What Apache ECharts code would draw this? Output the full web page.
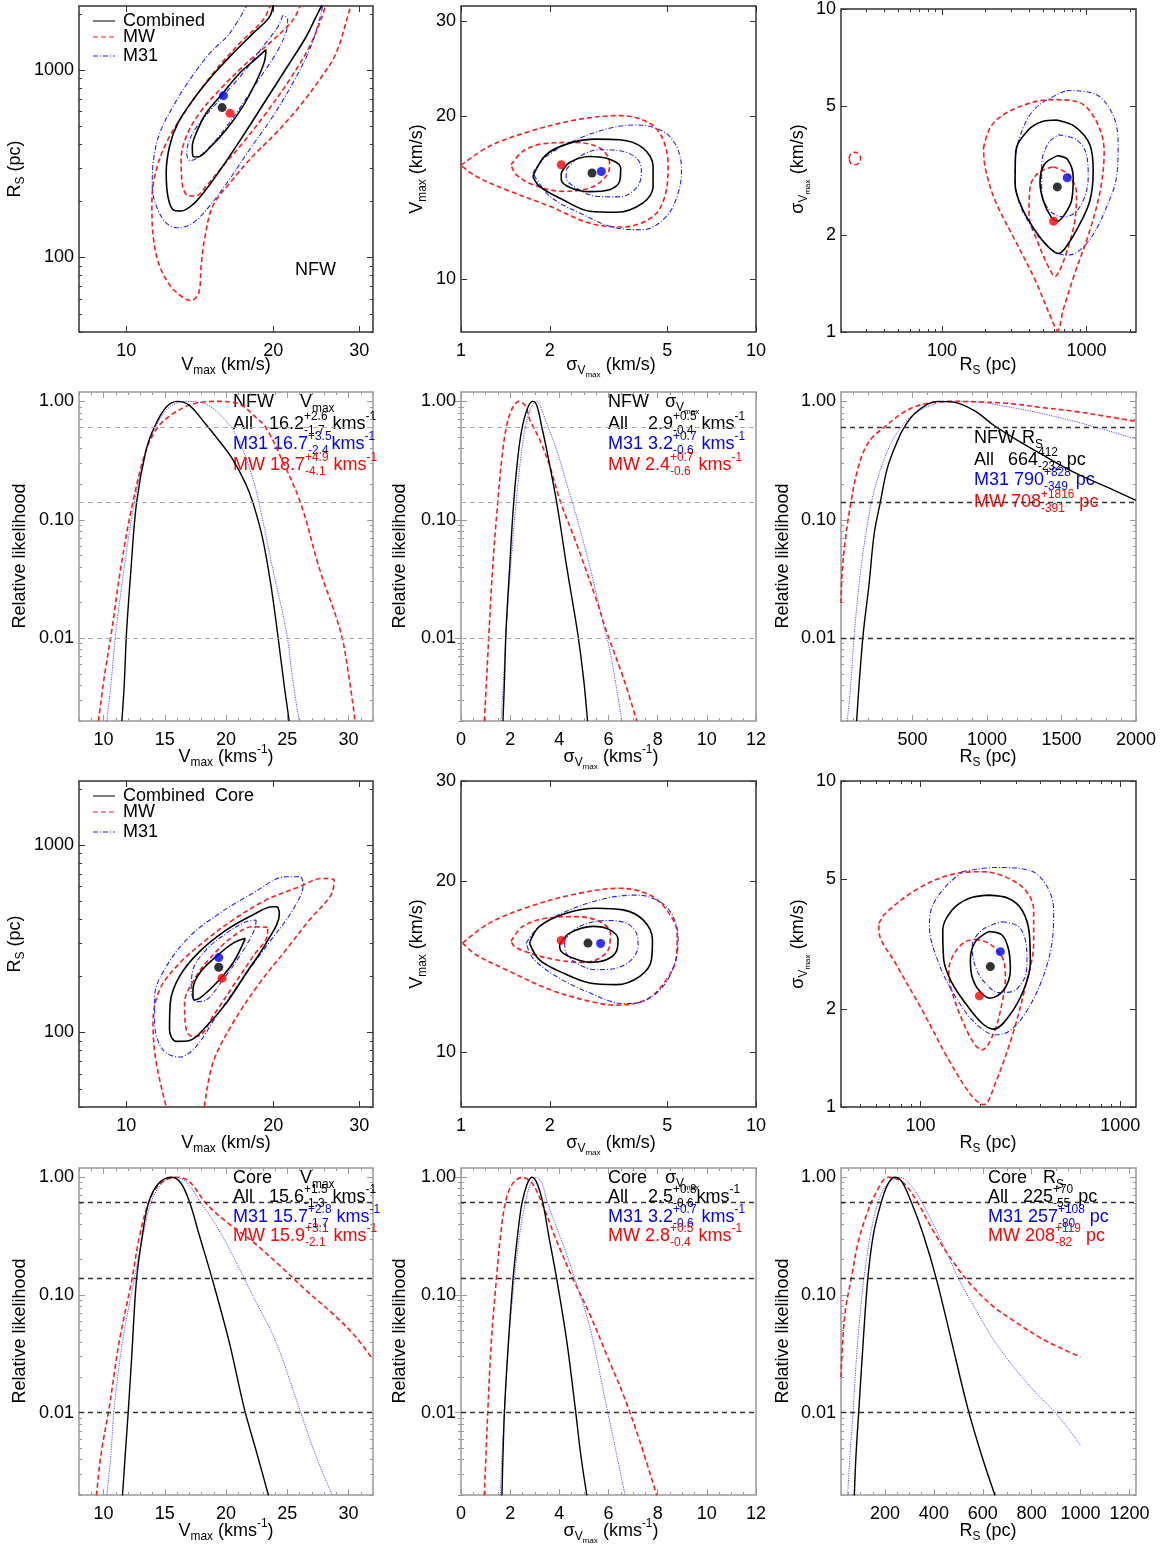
<!DOCTYPE html>
<html>
<head>
<meta charset="utf-8">
<script src="https://cdn.jsdelivr.net/npm/echarts@6/dist/echarts.min.js"></script>
<style>html,body{margin:0;padding:0;background:#fff}#chart{width:1163px;height:1545px}</style>
</head>
<body>
<div id="chart"></div>
<script>
// ---- NFW: Vmax vs Rs contours ----
const nfwVR_all_out = [[20.0,2260],[19.63,1919],[18.15,1566],[16.52,1226],[15.04,941],[13.69,693],[12.75,521],[12.26,392],[12.07,283],[12.16,213],[12.46,180],[12.95,177],[13.69,192],[14.57,231],[15.76,307],[17.31,443],[19.32,693],[21.57,1085],[23.33,1503],[24.64,2000],[25.23,2260]];
const nfwVR_all_in = [[19.32,1287],[18.44,1153],[17.04,960],[15.76,752],[14.57,589],[13.9,461],[13.65,392],[13.69,347],[14.01,344],[14.8,384],[16.01,480],[17.31,639],[18.44,867],[19.17,1107]];
const nfwVR_m31_out = [[17.73,2260],[16.26,1566],[14.8,1226],[13.47,885],[12.46,639],[11.70,461],[11.37,333],[11.30,240],[11.52,188],[12.07,153],[12.75,144],[13.69,153],[14.8,188],[16.26,261],[17.87,376],[19.94,565],[21.91,850],[23.7,1277],[24.84,1843],[25.3,2260]];
const nfwVR_m31_in = [[20.9,1959],[20.42,1699],[19.02,1330],[17.31,960],[15.51,693],[14.12,521],[13.47,425],[13.3,354],[13.51,329],[14.12,347],[15.27,425],[16.79,589],[18.44,850],[20.25,1226],[21.29,1631],[21.4,1880]];
const nfwVR_mw_out = [[19.79,2260],[19.02,1843],[17.04,1386],[15.04,960],[13.27,613],[12.07,408],[11.43,271],[11.28,188],[11.37,125],[11.70,90],[12.46,68],[13.58,59],[14.08,65],[14.23,90],[14.46,125],[15.04,188],[16.52,261],[18.15,347],[20.25,461],[22.61,639],[24.84,885],[26.86,1226],[28.51,2000],[28.87,2260]];
const nfwVR_mw_in = [[22.79,2260],[21.91,1843],[19.94,1443],[17.59,1085],[15.51,783],[14.12,589],[13.27,443],[12.95,333],[13.01,250],[13.37,214],[13.9,213],[14.57,240],[15.76,307],[17.31,408],[19.32,589],[21.57,885],[23.7,1330],[25.15,1919],[25.63,2260]];
const nfwVR_best = {m31: [15.81,731], all: [15.71,631], mw: [16.31,589]};

// ---- NFW: sigma vs Vmax contours ----
const nfwSV_mw_out = [[1.0,16.25],[1.248,17.62],[1.707,18.77],[2.459,19.72],[3.45,20.08],[4.364,19.44],[4.844,18.12],[5.037,16.18],[4.908,14.25],[4.479,13.08],[3.542,12.5],[2.729,12.71],[2.0,13.65],[1.422,14.65],[1.124,15.51]];
const nfwSV_mw_in = [[1.478,16.29],[1.62,17.24],[1.894,17.81],[2.459,17.91],[2.913,17.57],[3.149,16.87],[3.19,16.18],[3.069,15.4],[2.729,14.76],[2.215,14.55],[1.752,14.97],[1.538,15.62]];
const nfwSV_all_out = [[1.752,15.51],[1.945,17.01],[2.334,17.86],[2.876,18.17],[3.45,18.12],[4.142,17.49],[4.479,16.18],[4.479,14.86],[4.142,13.85],[3.363,13.31],[2.729,13.37],[2.215,14.04],[1.845,14.86]];
const nfwSV_all_in = [[2.187,15.73],[2.334,16.45],[2.729,16.87],[3.19,16.68],[3.478,16.07],[3.45,15.18],[3.19,14.65],[2.729,14.53],[2.364,14.76],[2.187,15.29]];
const nfwSV_m31_out = [[1.752,15.73],[1.945,16.87],[2.459,18.12],[3.19,19.03],[3.932,19.3],[4.844,18.77],[5.376,17.62],[5.59,15.96],[5.447,14.45],[4.972,13.08],[4.142,12.36],[3.363,12.45],[2.591,13.18],[2.0,14.25]];
const nfwSV_m31_in = [[2.274,15.96],[2.523,16.87],[2.951,17.37],[3.542,17.24],[3.983,16.64],[4.088,15.73],[3.932,14.76],[3.45,14.21],[2.876,14.25],[2.459,14.76],[2.274,15.4]];
const nfwSV_best = {m31: [2.99,15.83], all: [2.78,15.73], mw: [2.187,16.29]};

// ---- NFW: Rs vs sigma contours ----
const nfwRS_mw_out = [[193.8,3.711],[221.2,4.374],[320.4,4.918],[573.7,5.24],[876,5.155],[1172,4.478],[1324,3.625],[1256,2.8],[1055,2.064],[830.7,1.521],[690.4,1.174],[631,1.009],[573.7,1.095],[440,1.451],[320.4,1.923],[233.3,2.55],[199,3.224]];
const nfwRS_mw_island = [[22.71,3.443],[23.32,3.557],[24.85,3.6],[26.6,3.557],[27.33,3.443],[26.6,3.331],[24.85,3.293],[23.32,3.331]];
const nfwRS_mw_in = [[589,3.246],[747.4,3.076],[853,2.673],[830.7,2.213],[747.4,1.835],[655,1.557],[605,1.486],[558.6,1.557],[464.2,1.878],[400.2,2.32],[406.6,2.8],[464.2,3.112]];
const nfwRS_all_out = [[621,4.531],[830.7,4.323],[1055,3.799],[1112,3.149],[1055,2.55],[876,2.113],[709,1.813],[637.6,1.75],[544,1.835],[440,2.064],[356.2,2.433],[320.4,2.867],[323.8,3.625],[396,4.224],[489.5,4.478]];
const nfwRS_all_in = [[631,3.516],[739.6,3.419],[809,3.004],[788,2.55],[709,2.32],[631,2.203],[567.5,2.276],[502.5,2.55],[476.6,2.901],[510.5,3.3]];
const nfwRS_m31_out = [[728,5.595],[1141,5.464],[1527,4.69],[1654,3.799],[1610,3.004],[1374,2.433],[1083,1.969],[830.7,1.75],[709,1.73],[544,1.835],[417.6,2.113],[337.9,2.55],[320.4,3.076],[337.9,3.89],[440,4.918]];
const nfwRS_m31_in = [[637.6,4.076],[853,3.936],[1000,3.54],[1027,3.004],[948,2.55],[809,2.32],[672.4,2.276],[544,2.405],[489.5,2.74],[489.5,3.3],[544,3.845]];
const nfwRS_best = {m31: [735.6,3.004], all: [628,2.813], mw: [592,2.203]};

// ---- NFW: relative likelihood curves ----
const nfwLV_all = [[11.5,0.002],[11.69,0.004],[11.88,0.0112],[12.23,0.0367],[12.69,0.137],[13.46,0.382],[14.14,0.602],[15.09,0.889],[16.04,1.0],[16.99,0.93],[18.2,0.67],[19.4,0.47],[20.5,0.33],[21.62,0.2],[22.22,0.137],[22.98,0.0704],[23.66,0.0283],[24.2,0.0112],[24.75,0.004],[25.16,0.002]];
const nfwLV_m31 = [[10.27,0.002],[10.6,0.004],[11.01,0.0112],[11.69,0.0392],[12.5,0.137],[13.46,0.382],[14.22,0.602],[15.36,0.889],[16.72,1.0],[18.35,0.949],[19.99,0.686],[21.07,0.464],[22.16,0.227],[22.71,0.137],[23.8,0.0392],[24.94,0.0112],[25.43,0.0046],[25.97,0.002]];
const nfwLV_mw = [[9.59,0.002],[10.05,0.0046],[10.65,0.0112],[11.41,0.0392],[12.37,0.137],[13.46,0.382],[14.41,0.602],[15.63,0.781],[17.27,0.949],[19.17,1.0],[21.07,0.949],[22.44,0.732],[23.25,0.602],[24.61,0.314],[26.11,0.137],[27.61,0.0392],[29.37,0.0112],[30.05,0.0046],[30.54,0.002]];

const nfwLS_all = [[1.707,0.002],[1.761,0.004],[1.829,0.0112],[1.978,0.0392],[2.14,0.137],[2.343,0.382],[2.519,0.643],[2.75,0.919],[2.926,1.0],[3.088,0.919],[3.291,0.602],[3.495,0.382],[3.901,0.137],[4.307,0.0392],[4.741,0.0112],[4.984,0.0046],[5.147,0.002]];
const nfwLS_m31 = [[1.625,0.002],[1.734,0.0046],[1.869,0.0148],[2.072,0.0543],[2.275,0.164],[2.546,0.495],[2.817,0.861],[3.061,1.0],[3.495,0.643],[3.901,0.382],[4.307,0.199],[4.713,0.104],[5.255,0.0392],[5.797,0.013],[6.068,0.0077],[6.542,0.002]];
const nfwLS_mw = [[0.948,0.002],[1.029,0.004],[1.138,0.0112],[1.287,0.0392],[1.49,0.137],[1.666,0.335],[1.842,0.602],[2.072,0.861],[2.343,1.0],[2.614,0.919],[2.817,0.686],[3.224,0.464],[3.63,0.276],[4.036,0.144],[4.713,0.0618],[5.526,0.0205],[5.932,0.0112],[6.61,0.0046],[7.151,0.002]];

const nfwLR_all = [[125,0.002],[141,0.004],[170,0.0112],[208,0.0283],[242,0.0751],[282,0.137],[332,0.276],[399,0.464],[444,0.602],[511,0.781],[601,0.949],[668,1.0],[781,0.981],[915,0.834],[1050,0.622],[1174,0.495],[1365,0.358],[1589,0.25],[1814,0.187],[2000,0.146]];
const nfwLR_m31 = [[62,0.002],[85,0.004],[107,0.01],[141,0.0283],[186,0.0751],[242,0.175],[332,0.382],[421,0.602],[511,0.781],[646,0.949],[781,1.0],[960,0.981],[1140,0.9],[1365,0.791],[1589,0.677],[1814,0.564],[2000,0.48]];
const nfwLR_mw = [[20,0.0198],[28,0.0367],[51,0.0704],[85,0.137],[129,0.259],[174,0.382],[230,0.495],[309,0.602],[421,0.781],[534,0.919],[646,0.981],[758,1.0],[915,0.993],[1140,0.962],[1365,0.889],[1589,0.823],[1814,0.742],[2000,0.677]];

// ---- Core: Vmax vs Rs contours ----
const coreVR_all_out = [[20.42,469],[20.58,432],[19.32,299],[17.59,207],[16.01,143],[14.57,107.6],[13.47,90.6],[12.65,89.6],[12.26,103],[12.3,143],[12.85,199],[14.12,270],[16.01,352],[18.15,424],[19.94,469]];
const coreVR_all_in = [[17.53,318],[16.52,234],[15.27,183],[14.12,152],[13.73,149],[13.69,169],[14.12,207],[15.27,254],[16.52,299]];
const coreVR_m31_out = [[22.79,678],[23.04,625],[21.91,450],[19.32,287],[17.04,183],[15.27,121.7],[13.9,84.2],[12.85,73.9],[11.88,80.8],[11.43,112],[11.43,155.5],[12.07,224.7],[13.47,325],[15.51,432],[18.15,553],[21.23,678]];
const coreVR_m31_in = [[18.44,398],[18.29,352],[17.04,254],[15.76,191],[14.57,149],[13.9,146],[13.58,169],[13.69,216],[14.57,276],[16.01,338],[17.59,390]];
const coreVR_mw_out = [[12.16,37.2],[11.52,68.6],[11.34,112],[11.70,169],[12.85,234],[14.57,312],[16.52,398],[19.32,509],[22.61,600],[25.23,664],[26.65,651],[26.24,541],[23.7,398],[21.23,276],[18.73,183],[16.52,112],[15.04,68.6],[14.39,37.2]];
const coreVR_mw_in = [[19.47,364],[18.15,367],[16.52,325],[15.04,259],[13.9,199],[13.16,143],[13.27,103],[13.65,95.2],[14.23,97.2],[15.04,121.7],[16.52,176],[18.15,254],[19.47,338]];
const coreVR_best = {m31: [15.46,251], all: [15.46,223], mw: [15.71,195]};

// ---- Core: sigma vs Vmax contours ----
const coreSV_mw_out = [[1.013,15.55],[1.248,16.86],[1.707,18.03],[2.459,18.98],[3.45,19.42],[4.364,18.89],[4.972,17.79],[5.404,16.19],[5.376,14.73],[4.972,13.41],[4.251,12.37],[3.363,12.09],[2.729,12.28],[2.0,12.88],[1.422,13.96],[1.124,14.83]];
const coreSV_mw_in = [[1.478,15.66],[1.62,16.64],[1.945,17.2],[2.459,17.31],[2.951,16.97],[3.208,16.19],[3.19,15.34],[2.951,14.63],[2.591,14.38],[2.102,14.53],[1.707,14.93],[1.518,15.34]];
const coreSV_all_out = [[1.707,15.55],[1.845,16.64],[2.274,17.55],[2.876,17.91],[3.542,17.79],[4.142,17.08],[4.456,15.77],[4.421,14.53],[4.036,13.59],[3.363,13.14],[2.729,13.23],[2.215,13.78],[1.845,14.53]];
const coreSV_all_in = [[2.159,15.45],[2.334,16.19],[2.802,16.64],[3.19,16.42],[3.406,15.77],[3.363,15.03],[3.109,14.53],[2.729,14.38],[2.395,14.63],[2.187,15.03]];
const coreSV_m31_out = [[1.663,15.55],[1.845,16.64],[2.334,17.79],[3.109,18.65],[3.932,18.89],[4.719,18.4],[5.238,17.31],[5.447,15.77],[5.307,14.34],[4.844,13.05],[4.142,12.28],[3.542,12.17],[2.729,12.71],[2.102,13.59],[1.752,14.63]];
const coreSV_m31_in = [[2.244,15.77],[2.523,16.64],[3.109,17.04],[3.636,16.86],[3.932,16.19],[3.983,15.34],[3.781,14.53],[3.363,14.05],[2.876,13.96],[2.459,14.34],[2.262,15.03]];
const coreSV_best = {m31: [2.974,15.52], all: [2.694,15.55], mw: [2.187,15.72]};

// ---- Core: Rs vs sigma contours ----
const coreRS_mw_out = [[61.9,3.655],[66.8,3.926],[94.4,4.626],[138.6,5.14],[203.4,5.27],[266.1,5.08],[335,4.626],[368.8,4.02],[368.8,3.178],[335,2.34],[287.3,1.647],[237.1,1.184],[207.4,1.016],[181.3,1.078],[138.6,1.395],[101.9,1.985],[75,2.759],[61.9,3.491]];
const coreRS_mw_in = [[188.4,3.268],[219.6,3.178],[256.1,2.892],[266.1,2.51],[256.1,2.082],[232.6,1.685],[203.4,1.497],[184.8,1.571],[161.6,1.851],[142.9,2.286],[138.6,2.633],[149.6,2.996],[167.9,3.215]];
const coreRS_all_out = [[219.6,4.466],[276.5,4.362],[322.3,4.02],[350.7,3.41],[354.8,2.759],[328.6,2.286],[276.5,1.895],[232.6,1.733],[203.4,1.807],[167.9,2.082],[144,2.397],[130.8,2.825],[129.3,3.491],[144,4.02],[174.5,4.362]];
const coreRS_all_in = [[219.6,3.451],[256.1,3.37],[276.5,3.031],[281.8,2.633],[261.1,2.286],[223.9,2.156],[195.8,2.286],[181.3,2.51],[177.8,2.825],[188.4,3.215]];
const coreRS_m31_out = [[161.6,5.27],[237.1,5.43],[348,5.33],[421.7,4.85],[464.2,4.02],[455.1,3.178],[405.8,2.453],[335,1.94],[276.5,1.705],[237.1,1.666],[188.4,1.807],[149.6,2.181],[123.5,2.759],[110.9,3.573],[114.4,4.116],[133.4,4.736]];
const coreRS_m31_in = [[256.1,3.702],[310.2,3.573],[337.6,3.178],[341.5,2.759],[328.6,2.453],[287.3,2.259],[246.5,2.243],[211.3,2.397],[188.4,2.696],[181.3,3.104],[203.4,3.491]];
const coreRS_best = {m31: [251.2,2.996], all: [223.9,2.696], mw: [197.2,2.192]};

// ---- Core: relative likelihood curves ----
const coreLV_all = [[11.55,0.00198],[11.77,0.00433],[12.04,0.011],[12.31,0.0308],[12.69,0.134],[13.18,0.325],[13.67,0.604],[14.41,0.866],[15.5,1.0],[16.31,0.895],[17.05,0.604],[17.81,0.325],[18.9,0.134],[20.26,0.04],[21.48,0.011],[22.57,0.00433],[23.47,0.00198]];
const coreLV_m31 = [[10.27,0.00198],[10.6,0.00433],[10.87,0.011],[11.55,0.04],[12.5,0.134],[13.18,0.304],[13.86,0.604],[14.68,0.866],[15.63,1.0],[16.72,0.924],[17.95,0.604],[19.17,0.395],[20.53,0.219],[22.16,0.1],[24.07,0.04],[25.97,0.011],[27.33,0.00433],[28.69,0.00198]];
const coreLV_mw = [[9.43,0.00198],[9.78,0.00433],[10.46,0.011],[11.28,0.04],[12.31,0.134],[12.91,0.304],[13.67,0.604],[14.54,0.866],[15.9,1.0],[16.99,0.924],[18.35,0.604],[19.99,0.422],[22.16,0.285],[24.34,0.18],[26.52,0.11],[28.69,0.0698],[30.6,0.0441],[31.96,0.0285]];

const coreLS_all = [[1.666,0.00198],[1.707,0.00433],[1.774,0.011],[1.896,0.0308],[2.113,0.134],[2.303,0.325],[2.479,0.604],[2.682,0.866],[2.885,1.0],[3.088,0.895],[3.332,0.604],[3.562,0.325],[3.901,0.134],[4.307,0.04],[4.646,0.011],[4.876,0.00433],[5.12,0.00198]];
const coreLS_m31 = [[1.598,0.00198],[1.666,0.00433],[1.774,0.011],[1.937,0.04],[2.167,0.134],[2.384,0.325],[2.614,0.604],[2.817,0.866],[3.061,1.0],[3.291,0.895],[3.522,0.604],[3.901,0.37],[4.307,0.219],[4.713,0.1217],[5.255,0.052],[5.932,0.011],[6.339,0.00433],[6.678,0.00198]];
const coreLS_mw = [[0.948,0.00198],[1.016,0.00433],[1.097,0.011],[1.233,0.04],[1.436,0.134],[1.598,0.304],[1.801,0.604],[2.072,0.866],[2.479,1.0],[2.885,0.895],[3.291,0.604],[3.901,0.285],[4.578,0.134],[5.255,0.0675],[5.932,0.0308],[6.61,0.0141],[7.287,0.00562],[7.964,0.00198]];

const coreLR_all = [[74.5,0.00198],[81.3,0.00433],[93.6,0.011],[107.2,0.0308],[129.1,0.134],[152.3,0.325],[183.6,0.604],[210.9,0.866],[238.2,1.0],[268.2,0.924],[309.1,0.604],[356.9,0.325],[411.5,0.134],[472.9,0.04],[538.3,0.011],[595.6,0.00433],[650.2,0.00198]];
const coreLR_m31 = [[47.2,0.00198],[56.8,0.00433],[70.4,0.011],[84,0.0308],[101.8,0.0822],[120.9,0.18],[145.4,0.37],[172.7,0.624],[206.8,0.866],[261.4,1.0],[309.1,0.838],[363.7,0.548],[431.9,0.285],[500.1,0.139],[568.4,0.077],[650.2,0.04],[732,0.0237],[813.9,0.015],[882.1,0.0108],[950.3,0.0073],[1000,0.00527]];
const coreLR_mw = [[20,0.0201],[26.7,0.04],[39,0.077],[60.8,0.134],[90.9,0.285],[125,0.481],[159,0.712],[213.6,1.0],[268.2,0.924],[322.8,0.667],[391,0.37],[459.2,0.219],[541,0.13],[636.6,0.0822],[732,0.0593],[841.2,0.0427],[936.7,0.034],[1000,0.0298]];

// likelihood reference levels (1, 2, 3 sigma)
const levels = [0.607, 0.135, 0.0111];

// tick labels
const vTicks = [10, 20, 30];
const rsTicks = [100, 1000];
const sigTicks = [1, 2, 5, 10];
const likeTicks = [0.01, 0.1, 1];
const vLinTicks = [10, 15, 20, 25, 30];
const sLinTicks = [0, 2, 4, 6, 8, 10, 12];
const rNfwTicks = [500, 1000, 1500, 2000];
const rCoreTicks = [200, 400, 600, 800, 1000, 1200];

const FONT = '"Liberation Sans", Arial, Helvetica, sans-serif';
const C_ALL = '#000000', C_MW = '#ff0000', C_M31 = '#0000ff';
const S_ALL = {color: C_ALL, width: 1.6, type: 'solid'};
const S_MW = {color: '#ff1a1a', width: 1.6, type: [5, 3]};
const S_M31 = {color: '#2020ff', width: 1.1, type: [5, 2, 1, 2]};
const S_M31_DOT = {color: '#5050ff', width: 1, type: [1.2, 1.2]};

// grid boxes: left, top, width, height
const BOX = [
    [79, 6, 294, 326], [461, 6, 295, 326], [841, 6, 295, 326],
    [79, 392, 294, 329], [461, 392, 295, 329], [841, 392, 295, 329],
    [79, 781, 294, 326], [461, 781, 295, 326], [841, 781, 295, 326],
    [79, 1168, 294, 327], [461, 1168, 295, 327], [841, 1168, 295, 327]
];

function decadeTicks(lo, hi, mults) {
    const out = [];
    for (let e = -4; e <= 4; e++) {
        mults.forEach(function (m) {
            const v = +(m * Math.pow(10, e)).toPrecision(6);
            if (v >= lo * 0.9999 && v <= hi * 1.0001) out.push(v);
        });
    }
    return out;
}
function stepTicks(lo, hi, step, skip) {
    const out = [];
    for (let v = lo; v <= hi + 1e-9; v += step) {
        const r = +v.toFixed(6);
        if (skip.indexOf(r) < 0) out.push(r);
    }
    return out;
}
const fmtInt = function (v) { return String(Math.round(v)); };
const fmtLike = function (v) { return v.toFixed(2); };

const minor29 = [2, 3, 4, 5, 6, 7, 8, 9];
const AX = {
    vLog: {type: 'log', min: 8, max: 32, major: vTicks, fmt: fmtInt},
    rsLogA: {type: 'log', min: 40, max: 2200, major: rsTicks, minor: decadeTicks(40, 2200, minor29), fmt: fmtInt},
    sigLogX: {type: 'log', min: 1, max: 10, major: sigTicks, fmt: fmtInt},
    vLogY8: {type: 'log', min: 8, max: 30, major: vTicks, fmt: fmtInt},
    rsLogB: {type: 'log', min: 20, max: 2200, major: rsTicks, minor: decadeTicks(20, 2200, minor29), fmt: fmtInt},
    rsLogC: {type: 'log', min: 40, max: 1200, major: rsTicks, minor: decadeTicks(40, 1200, minor29), fmt: fmtInt},
    sigLogY: {type: 'log', min: 1, max: 10, major: sigTicks, fmt: fmtInt},
    like: {type: 'log', min: 0.002, max: 1.2, major: likeTicks, minor: decadeTicks(0.002, 1.2, minor29), fmt: fmtLike},
    vLin: {type: 'value', min: 8, max: 32, major: vLinTicks, minor: stepTicks(8, 32, 1, vLinTicks), fmt: fmtInt},
    sLin: {type: 'value', min: 0, max: 12, major: sLinTicks, minor: stepTicks(0, 12, 0.5, sLinTicks), fmt: fmtInt},
    rNfw: {type: 'value', min: 20, max: 2000, major: rNfwTicks, minor: stepTicks(100, 2000, 100, rNfwTicks), fmt: fmtInt},
    rCore: {type: 'value', min: 20, max: 1227, major: rCoreTicks, minor: stepTicks(50, 1200, 50, rCoreTicks), fmt: fmtInt}
};

const option = {animation: false, backgroundColor: '#ffffff', grid: [], xAxis: [], yAxis: [], series: [], graphic: []};

function addAxes(gi, dim, cfg, frame) {
    const list = dim === 'x' ? option.xAxis : option.yAxis;
    const sides = dim === 'x' ? ['bottom', 'top'] : ['left', 'right'];
    const mainIndex = list.length;
    sides.forEach(function (side, k) {
        [['major', 6], ['minor', 3]].forEach(function (m) {
            const vals = cfg[m[0]];
            if (!vals || !vals.length) return;
            const ax = {
                gridIndex: gi, type: cfg.type, position: side, min: cfg.min, max: cfg.max,
                axisLine: {show: false},
                splitLine: {show: false},
                axisTick: {show: true, inside: true, length: m[1], customValues: vals, lineStyle: {color: frame, width: 1}},
                axisLabel: {
                    show: k === 0 && m[0] === 'major', customValues: vals, formatter: cfg.fmt,
                    margin: dim === 'x' ? 10 : 5, fontSize: 18, fontFamily: FONT, color: '#000'
                }
            };
            if (cfg.type === 'log') ax.logBase = 10;
            list.push(ax);
        });
    });
    return mainIndex;
}

function panel(gi, xcfg, ycfg, frame) {
    const b = BOX[gi];
    option.grid.push({left: b[0], top: b[1], width: b[2], height: b[3], show: true,
        borderColor: frame, borderWidth: 1.5, backgroundColor: 'transparent'});
    return {xi: addAxes(gi, 'x', xcfg, frame), yi: addAxes(gi, 'y', ycfg, frame)};
}

function curve(ax, data, style, closed, z) {
    option.series.push({
        type: 'line', xAxisIndex: ax.xi, yAxisIndex: ax.yi,
        data: closed ? data.concat([data[0]]) : data,
        symbol: 'none', smooth: 0.35, lineStyle: style, silent: true, z: z || 2
    });
    return option.series[option.series.length - 1];
}

function dots(ax, best) {
    [['m31', C_M31], ['all', C_ALL], ['mw', C_MW]].forEach(function (p) {
        option.series.push({
            type: 'scatter', xAxisIndex: ax.xi, yAxisIndex: ax.yi, data: [best[p[0]]],
            symbolSize: 9, itemStyle: {color: p[1]}, silent: true, z: 5
        });
    });
}

function contourPanel(gi, xcfg, ycfg, sets, best) {
    const ax = panel(gi, xcfg, ycfg, '#333');
    sets.forEach(function (s) { curve(ax, s[0], s[1], s[2], s[3]); });
    dots(ax, best);
}

function likePanel(gi, xcfg, all, m31, mw, lvlColor, lvlWidth) {
    const ax = panel(gi, xcfg, AX.like, '#999');
    const s = curve(ax, all, {color: '#000', width: 1.4, type: 'solid'}, false, 4);
    s.markLine = {
        silent: true, symbol: 'none', label: {show: false},
        lineStyle: {color: lvlColor, type: [5, 4], width: lvlWidth},
        data: levels.map(function (v) { return {yAxis: v}; })
    };
    curve(ax, m31, S_M31_DOT, false, 3);
    curve(ax, mw, S_MW, false, 3);
}

// ---- panels ----
contourPanel(0, AX.vLog, AX.rsLogA, [
    [nfwVR_mw_out, S_MW, false], [nfwVR_mw_in, S_MW, false],
    [nfwVR_m31_out, S_M31, false], [nfwVR_m31_in, S_M31, true],
    [nfwVR_all_out, S_ALL, false, 3], [nfwVR_all_in, S_ALL, true, 3]
], nfwVR_best);
contourPanel(1, AX.sigLogX, AX.vLog, [
    [nfwSV_mw_out, S_MW, true], [nfwSV_mw_in, S_MW, true],
    [nfwSV_m31_out, S_M31, true], [nfwSV_m31_in, S_M31, true],
    [nfwSV_all_out, S_ALL, true, 3], [nfwSV_all_in, S_ALL, true, 3]
], nfwSV_best);
contourPanel(2, AX.rsLogB, AX.sigLogY, [
    [nfwRS_mw_out, S_MW, true], [nfwRS_mw_in, S_MW, true], [nfwRS_mw_island, S_MW, true],
    [nfwRS_m31_out, S_M31, true], [nfwRS_m31_in, S_M31, true],
    [nfwRS_all_out, S_ALL, true, 3], [nfwRS_all_in, S_ALL, true, 3]
], nfwRS_best);
likePanel(3, AX.vLin, nfwLV_all, nfwLV_m31, nfwLV_mw, '#aaaaaa', 1);
likePanel(4, AX.sLin, nfwLS_all, nfwLS_m31, nfwLS_mw, '#aaaaaa', 1);
likePanel(5, AX.rNfw, nfwLR_all, nfwLR_m31, nfwLR_mw, '#333333', 1.4);
contourPanel(6, AX.vLog, AX.rsLogA, [
    [coreVR_mw_out, S_MW, false], [coreVR_mw_in, S_MW, true],
    [coreVR_m31_out, S_M31, true], [coreVR_m31_in, S_M31, true],
    [coreVR_all_out, S_ALL, true, 3], [coreVR_all_in, S_ALL, true, 3]
], coreVR_best);
contourPanel(7, AX.sigLogX, AX.vLogY8, [
    [coreSV_mw_out, S_MW, true], [coreSV_mw_in, S_MW, true],
    [coreSV_m31_out, S_M31, true], [coreSV_m31_in, S_M31, true],
    [coreSV_all_out, S_ALL, true, 3], [coreSV_all_in, S_ALL, true, 3]
], coreSV_best);
contourPanel(8, AX.rsLogC, AX.sigLogY, [
    [coreRS_mw_out, S_MW, true], [coreRS_mw_in, S_MW, true],
    [coreRS_m31_out, S_M31, true], [coreRS_m31_in, S_M31, true],
    [coreRS_all_out, S_ALL, true, 3], [coreRS_all_in, S_ALL, true, 3]
], coreRS_best);
likePanel(9, AX.vLin, coreLV_all, coreLV_m31, coreLV_mw, '#333333', 1.4);
likePanel(10, AX.sLin, coreLS_all, coreLS_m31, coreLS_mw, '#333333', 1.4);
likePanel(11, AX.rCore, coreLR_all, coreLR_m31, coreLR_mw, '#333333', 1.4);

// ---- text with sub/superscripts ----
const measure = document.createElement('canvas').getContext('2d');
function textWidth(s, size) {
    measure.font = size + 'px ' + FONT;
    return measure.measureText(s).width;
}
function layout(segs, color, size, align) {
    const items = [];
    let cx = 0;
    segs.forEach(function (seg) {
        if (typeof seg === 'string') seg = [seg, 1, 0];
        if (Array.isArray(seg)) {
            const fs = size * seg[1];
            items.push({t: seg[0], x: cx, dy: seg[2] * size, fs: fs});
            cx += textWidth(seg[0], fs);
        } else {
            const fs = size * 0.66;
            let w = 0;
            if (seg.sup) { items.push({t: seg.sup, x: cx, dy: -0.42 * size, fs: fs}); w = Math.max(w, textWidth(seg.sup, fs)); }
            if (seg.sub) { items.push({t: seg.sub, x: cx, dy: 0.4 * size, fs: fs}); w = Math.max(w, textWidth(seg.sub, fs)); }
            cx += w;
        }
    });
    const off = align === 'center' ? -cx / 2 : 0;
    return items.map(function (it) {
        return {
            type: 'text', x: it.x + off, y: it.dy,
            style: {text: it.t, fill: color, font: it.fs.toFixed(1) + 'px ' + FONT,
                textAlign: 'left', textVerticalAlign: 'middle', align: 'left', verticalAlign: 'middle'}
        };
    });
}
function addText(x, y, segs, color, size, align, rot) {
    option.graphic.push({type: 'group', x: x, y: y, rotation: rot || 0, silent: true,
        children: layout(segs, color || '#000', size || 18, align || 'left')});
}

const T_V = ['V', ['max', 0.66, 0.32], ' (km/s)'];
const T_Vk = ['V', ['max', 0.66, 0.32], ' (kms', {sup: '-1'}, ')'];
const T_R = ['R', ['S', 0.66, 0.32], ' (pc)'];
const T_S = ['σ', ['V', 0.66, 0.3], ['max', 0.45, 0.52], ' (km/s)'];
const T_Sk = ['σ', ['V', 0.66, 0.3], ['max', 0.45, 0.52], ' (kms', {sup: '-1'}, ')'];
const T_L = ['Relative likelihood'];
const ROT = Math.PI / 2;

// axis titles
[[365, 1143, T_V, T_S, T_R], [757, 1531, T_Vk, T_Sk, T_R]].forEach(function (row) {
    [row[0], row[1]].forEach(function (y) {
        addText(226, y, row[2], '#000', 18, 'center');
        addText(611, y, row[3], '#000', 18, 'center');
        addText(988, y, row[4], '#000', 18, 'center');
    });
});
[169, 944].forEach(function (y) {
    addText(15, y, T_R, '#000', 18, 'center', ROT);
    addText(417, y, T_V, '#000', 18, 'center', ROT);
    addText(798, y, T_S, '#000', 18, 'center', ROT);
});
[556, 1331].forEach(function (y) {
    addText(20, y, T_L, '#000', 18, 'center', ROT);
    addText(400, y, T_L, '#000', 18, 'center', ROT);
    addText(783, y, T_L, '#000', 18, 'center', ROT);
});

// legends in contour panels
function legend(y0, name, gap) {
    const ys = [y0, y0 + gap[0], y0 + gap[1]];
    const st = [S_ALL, S_MW, S_M31];
    const names = [name, 'MW', 'M31'];
    ys.forEach(function (y, i) {
        option.graphic.push({type: 'line', silent: true,
            shape: {x1: 93, y1: y, x2: 115, y2: y},
            style: {stroke: st[i].color, lineWidth: 1, lineDash: st[i].type === 'solid' ? null : st[i].type}});
        addText(123, y, [names[i]], '#000', 18);
    });
}
legend(21, 'Combined', [16, 35]);
legend(796, 'Combined  Core', [16, 36]);
addText(295, 270, ['NFW'], '#000', 18);

// likelihood annotations
function annot(x, ys, head, qty, qx, all, ax, m31, mw) {
    addText(x, ys[0], [head], '#000', 18);
    addText(qx, ys[0], qty, '#000', 18);
    addText(x, ys[1], ['All'], '#000', 18);
    addText(ax, ys[1], all, '#000', 18);
    addText(x, ys[2], m31, C_M31, 18);
    addText(x, ys[3], mw, C_MW, 18);
}
const Q_V = ['V', ['max', 0.66, 0.35]];
const Q_S = ['σ', ['V', 0.66, 0.3], ['max', 0.45, 0.52]];
const Q_R = ['R', ['S', 0.66, 0.35]];
annot(233, [402, 424, 444, 465], 'NFW', Q_V, 300,
    ['16.2', {sup: '+2.6', sub: '-1.7'}, ' kms', {sup: '-1'}], 269,
    ['M31 16.7', {sup: '+3.5', sub: '-2.4'}, 'kms', {sup: '-1'}],
    ['MW 18.7', {sup: '+4.9', sub: '-4.1'}, ' kms', {sup: '-1'}]);
annot(608, [402, 424, 444, 465], 'NFW', Q_S, 665,
    ['2.9', {sup: '+0.5', sub: '-0.4'}, ' kms', {sup: '-1'}], 648,
    ['M31 3.2', {sup: '+0.7', sub: '-0.6'}, ' kms', {sup: '-1'}],
    ['MW 2.4', {sup: '+0.7', sub: '-0.6'}, ' kms', {sup: '-1'}]);
annot(974, [438, 460, 480, 502], 'NFW', Q_R, 1022,
    ['664', {sup: '412', sub: '-232'}, ' pc'], 1008,
    ['M31 790', {sup: '+828', sub: '-349'}, ' pc'],
    ['MW 708', {sup: '+1816', sub: '-391'}, ' pc']);
annot(233, [1178, 1197, 1217, 1236], 'Core', Q_V, 300,
    ['15.6', {sup: '+1.5', sub: '-1.3'}, ' kms', {sup: '-1'}], 269,
    ['M31 15.7', {sup: '+2.8', sub: '-1.7'}, ' kms', {sup: '-1'}],
    ['MW 15.9', {sup: '+3.1', sub: '-2.1'}, ' kms', {sup: '-1'}]);
annot(608, [1178, 1197, 1217, 1236], 'Core', Q_S, 665,
    ['2.5', {sup: '+0.8', sub: '-0.6'}, 'kms', {sup: '-1'}], 648,
    ['M31 3.2', {sup: '+0.7', sub: '-0.6'}, ' kms', {sup: '-1'}],
    ['MW 2.8', {sup: '+0.5', sub: '-0.4'}, ' kms', {sup: '-1'}]);
annot(988, [1178, 1197, 1217, 1236], 'Core', Q_R, 1043,
    ['225', {sup: '+70', sub: '-55'}, ' pc'], 1023,
    ['M31 257', {sup: '+108', sub: '-80'}, ' pc'],
    ['MW 208', {sup: '+119', sub: '-82'}, ' pc']);

const chart = echarts.init(document.getElementById('chart'));
chart.setOption(option);
window.addEventListener('resize', function () { chart.resize(); });
</script>
</body>
</html>
